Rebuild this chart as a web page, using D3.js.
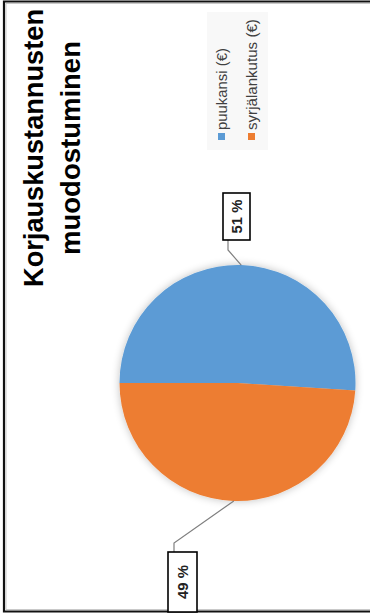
<!DOCTYPE html>
<html>
<head>
<meta charset="utf-8">
<script src="https://cdn.jsdelivr.net/npm/d3@7"></script>
<style>
  html, body { margin: 0; padding: 0; background: #fff; }
  svg { display: block; }
</style>
</head>
<body>
<svg id="chart" width="370" height="615"></svg>
<script>
// Repair cost breakdown
const categories = ["puukansi (€)", "syrjälankutus (€)"];
const values = [51, 49];
const valueLabels = ["51 %", "49 %"];
const titleLines = ["Korjauskustannusten", "muodostuminen"];
const colors = ["#5B9BD5", "#ED7D31"];

const svg = d3.select("#chart");
const W = 370, H = 615;

const defs = svg.append("defs");
const shadow = defs.append("filter").attr("id", "soft").attr("x", "-20%").attr("y", "-20%").attr("width", "140%").attr("height", "140%");
shadow.append("feGaussianBlur").attr("in", "SourceAlpha").attr("stdDeviation", 4).attr("result", "b");
shadow.append("feComponentTransfer").attr("in", "b").attr("result", "s")
  .append("feFuncA").attr("type", "linear").attr("slope", 0.25);
const merge = shadow.append("feMerge");
merge.append("feMergeNode").attr("in", "s");
merge.append("feMergeNode").attr("in", "SourceGraphic");

// frame
svg.append("path")
  .attr("d", `M${W},1.5 H4 V611.5 H${W}`)
  .attr("fill", "none").attr("stroke", "#111").attr("stroke-width", 2.2);
svg.append("path")
  .attr("d", `M${W},3.5 H6 V609.5 H${W}`)
  .attr("fill", "none").attr("stroke", "#bbb").attr("stroke-width", 0.8);

// size a text element so it spans the wanted length
function fit(el, base, target) {
  const len = el.node().getComputedTextLength();
  el.attr("font-size", base * target / len);
}

// title, rotated to read upwards
const narrow = "'Liberation Sans Narrow', 'Liberation Sans', Arial, sans-serif";
const titleX = [43, 80];
const titleTargets = [278, 214];
titleLines.forEach((t, i) => {
  const el = svg.append("text")
    .attr("transform", `translate(${titleX[i]},148) rotate(-90)`)
    .attr("text-anchor", "middle")
    .attr("font-family", narrow)
    .attr("font-weight", "bold")
    .attr("font-size", 28)
    .attr("fill", "#000")
    .text(t);
  fit(el, 28, titleTargets[i]);
});

// legend
const legend = svg.append("g");
legend.append("rect").attr("x", 207).attr("y", 12).attr("width", 61).attr("height", 138)
  .attr("fill", "#f8f8f8");
const legendX = d3.scalePoint().domain(categories).range([227, 257]);
const legendTargets = [82, 111];
categories.forEach((c, i) => {
  const bx = legendX(c);
  legend.append("rect").attr("x", bx - 9).attr("y", 133).attr("width", 7).attr("height", 7)
    .attr("fill", colors[i]);
  const el = legend.append("text")
    .attr("transform", `translate(${bx},130) rotate(-90)`)
    .attr("font-family", narrow)
    .attr("font-size", 13)
    .attr("fill", "#404040")
    .text(c);
  fit(el, 13, legendTargets[i]);
});

// pie, starting at 9 o'clock and running clockwise
const cx = 237.5, cy = 383, r = 118;
const pie = d3.pie().sort(null).value(d => d).startAngle(-Math.PI / 2).endAngle(1.5 * Math.PI);
const arcs = pie(values);
const arc = d3.arc().innerRadius(0).outerRadius(r);
const g = svg.append("g").attr("transform", `translate(${cx},${cy})`);
g.append("g").attr("filter", "url(#soft)")
  .selectAll("path").data(arcs).join("path")
  .attr("d", arc)
  .attr("fill", (d, i) => colors[i]);

// value labels with leader lines
const boxes = [
  { x: 223, y: 193, w: 27, h: 47, elbow: [228, 250], anchor: [228, 240] },
  { x: 168, y: 552, w: 29, h: 60, elbow: [174, 543], anchor: [174, 552] }
];
arcs.forEach((a, i) => {
  const mid = (a.startAngle + a.endAngle) / 2;
  const px = cx + r * Math.sin(mid), py = cy - r * Math.cos(mid);
  const b = boxes[i];
  svg.append("polyline")
    .attr("points", [[px, py], b.elbow, b.anchor].map(p => p.join(",")).join(" "))
    .attr("fill", "none").attr("stroke", "#7f7f7f").attr("stroke-width", 1.2);
  svg.append("rect").attr("x", b.x).attr("y", b.y).attr("width", b.w).attr("height", b.h)
    .attr("fill", "#fff").attr("stroke", "#000").attr("stroke-width", 1.6);
  const el = svg.append("text")
    .attr("transform", `translate(${b.x + b.w / 2 + 5.5},${b.y + b.h / 2}) rotate(-90)`)
    .attr("text-anchor", "middle")
    .attr("font-family", narrow)
    .attr("font-weight", "bold")
    .attr("font-size", 16)
    .attr("fill", "#222")
    .text(valueLabels[i]);
  fit(el, 16, 34);
});
</script>
</body>
</html>
